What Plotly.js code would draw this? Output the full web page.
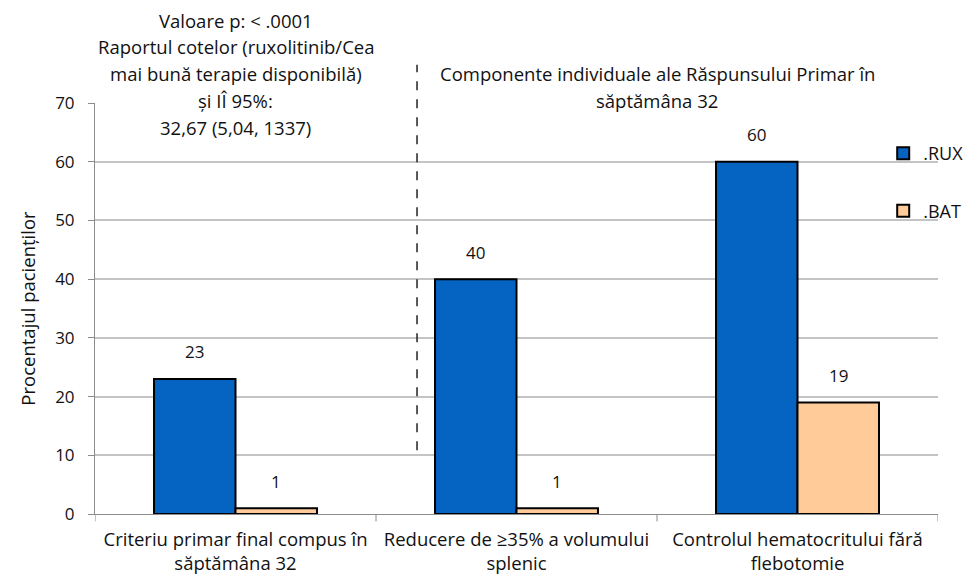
<!DOCTYPE html>
<html><head><meta charset="utf-8">
<script src="https://cdn.plot.ly/plotly-3.0.1.min.js"></script>
<style>body{margin:0}#c{width:963px;height:576px}</style>
</head><body><div id="c"></div>
<script>
const categories = ["Criteriu primar final compus în<br>săptămâna 32", "Reducere de ≥35% a volumului<br>splenic", "Controlul hematocritului fără<br>flebotomie"];
const ruxValues = [23, 40, 60];
const batValues = [1, 1, 19];
const seriesNames = [".RUX", ".BAT"];
const yTicks = [0, 10, 20, 30, 40, 50, 60, 70];
const leftNoteLines = ["Valoare p: < .0001", "Raportul cotelor (ruxolitinib/Cea", "mai bună terapie disponibilă)", "și IÎ 95%:", "32,67 (5,04, 1337)"];
const rightNoteLines = ["Componente individuale ale Răspunsului Primar în", "săptămâna 32"];

const FONT = "'Open Sans', sans-serif";
const TXT = '#111';
const FS = 18.5;
const xIdx = categories.map((_, i) => i);
const BARGAP = 0.42;
const half = (1 - BARGAP) / 4; // offset of each bar centre from the category centre

const traces = [
  {type: 'bar', x: xIdx, y: ruxValues, name: seriesNames[0], legendgroup: 'a',
   marker: {color: '#0563C1', line: {color: '#000', width: 2}}, hoverinfo: 'y'},
  {type: 'bar', x: xIdx, y: batValues, name: seriesNames[1], legendgroup: 'b',
   marker: {color: '#FFCC99', line: {color: '#000', width: 2}}, hoverinfo: 'y'}
];

const annotations = [];
ruxValues.forEach((v, i) => annotations.push({xref: 'x', yref: 'y', x: i - half, y: v, text: String(v),
  showarrow: false, yanchor: 'middle', yshift: 27, font: {size: 17, family: FONT, color: TXT}}));
batValues.forEach((v, i) => annotations.push({xref: 'x', yref: 'y', x: i + half, y: v, text: String(v),
  showarrow: false, yanchor: 'middle', yshift: 27, font: {size: 17, family: FONT, color: TXT}}));
const leftY = [1.2019, 1.1363, 1.0706, 1.0049, 0.9392];
leftNoteLines.forEach((t, k) => annotations.push({xref: 'x', yref: 'paper', x: 0, y: leftY[k], yanchor: 'middle',
  showarrow: false, text: t, font: {size: FS, family: FONT, color: TXT}}));
const rightY = [1.0706, 1.0049];
rightNoteLines.forEach((t, k) => annotations.push({xref: 'x', yref: 'paper', x: 1.5, y: rightY[k], yanchor: 'middle',
  showarrow: false, text: t, font: {size: FS, family: FONT, color: TXT}}));

const shapes = [
  {type: 'line', xref: 'x', yref: 'paper', x0: 0.646, x1: 0.646, y0: 0.155, y1: 1.093,
   line: {color: '#222', width: 1.5, dash: 'dash'}}
];
[-0.5, 0.5, 1.5, 2.5].forEach(b => shapes.push({type: 'line', xref: 'x', yref: 'paper', x0: b, x1: b, y0: 0, y1: -0.018,
  line: {color: '#8c8c8c', width: 1}}));

const layout = {
  width: 963, height: 576,
  margin: {l: 95, r: 25, t: 103, b: 62, autoexpand: false},
  paper_bgcolor: '#fff', plot_bgcolor: '#fff',
  font: {family: FONT, size: FS, color: TXT},
  barmode: 'group', bargap: BARGAP, bargroupgap: 0,
  showlegend: true,
  legend: {x: 0.935, y: 0.922, xanchor: 'left', yanchor: 'top', bgcolor: 'rgba(0,0,0,0)',
           font: {size: 18, family: FONT, color: TXT}, traceorder: 'grouped', tracegroupgap: 31},
  xaxis: {tickmode: 'array', tickvals: xIdx, ticktext: categories, range: [-0.5, 2.5],
          showgrid: false, showline: true, linecolor: '#8c8c8c', linewidth: 1,
          ticks: '', ticklabelstandoff: 9, tickfont: {size: FS, family: FONT, color: TXT}, zeroline: false},
  yaxis: {range: [0, 70], tickmode: 'array', tickvals: yTicks, showgrid: true,
          gridcolor: '#c4c4c4', gridwidth: 2, showline: true, linecolor: '#8c8c8c', linewidth: 1,
          ticks: 'outside', ticklen: 6, tickcolor: '#8c8c8c', zeroline: false, ticklabelstandoff: 10,
          tickfont: {size: 17, family: FONT, color: TXT},
          title: {text: 'Procentajul pacienților', font: {size: FS, family: FONT, color: TXT}, standoff: 14}},
  shapes: shapes,
  annotations: annotations
};
Plotly.newPlot('c', traces, layout, {displayModeBar: false});
</script></body></html>
